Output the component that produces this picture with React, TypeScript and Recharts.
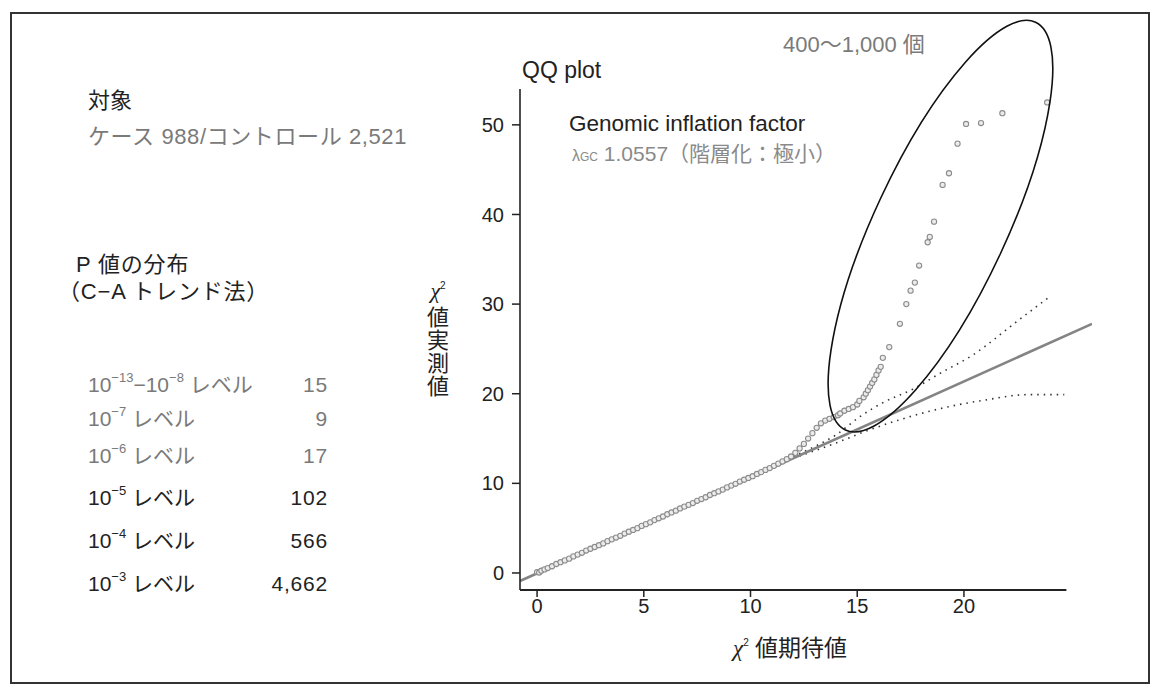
import React from "react";
import {
  ComposedChart,
  XAxis,
  YAxis,
  Scatter,
  Line,
  ReferenceLine,
  ReferenceDot,
} from "recharts";

// ---- data ----
const xTicks = [0, 5, 10, 15, 20];
const yTicks = [0, 10, 20, 30, 40, 50];

// observed chi-square vs expected chi-square (x = expected, y = observed)
const observedPairs: [number, number][] = [
  [0.0, 0.1], [0.1, 0.05], [0.2, 0.25], [0.35, 0.4], [0.5, 0.55], [0.7, 0.75],
  [0.9, 1.0], [1.1, 1.2], [1.3, 1.4], [1.5, 1.6], [1.7, 1.85], [1.9, 2.05],
  [2.1, 2.25], [2.3, 2.5], [2.5, 2.7], [2.7, 2.9], [2.9, 3.1], [3.1, 3.3],
  [3.3, 3.55], [3.5, 3.75], [3.7, 3.95], [3.9, 4.15], [4.1, 4.4], [4.3, 4.6],
  [4.5, 4.8], [4.7, 5.0], [4.9, 5.25], [5.1, 5.45], [5.3, 5.65], [5.5, 5.9],
  [5.7, 6.1], [5.9, 6.3], [6.1, 6.55], [6.3, 6.75], [6.5, 6.95], [6.7, 7.2],
  [6.9, 7.4], [7.1, 7.6], [7.3, 7.8], [7.5, 8.05], [7.7, 8.25], [7.9, 8.45],
  [8.1, 8.7], [8.3, 8.9], [8.5, 9.1], [8.7, 9.3], [8.9, 9.55], [9.1, 9.75],
  [9.3, 9.95], [9.5, 10.2], [9.7, 10.4], [9.9, 10.6], [10.1, 10.8], [10.3, 11.05],
  [10.5, 11.25], [10.7, 11.5], [10.9, 11.7], [11.1, 11.95], [11.3, 12.2], [11.5, 12.45],
  [11.7, 12.7], [11.9, 13.0], [12.1, 13.4], [12.3, 13.9], [12.5, 14.4], [12.7, 15.0],
  [12.9, 15.6], [13.1, 16.2], [13.3, 16.7], [13.5, 17.0], [13.7, 17.2], [13.9, 17.4],
  [14.1, 17.6], [14.2, 17.8], [14.4, 18.1], [14.6, 18.3], [14.8, 18.5], [15.0, 18.8],
  [15.1, 19.2], [15.3, 19.6], [15.4, 20.0], [15.5, 20.4], [15.6, 20.8], [15.7, 21.2],
  [15.8, 21.6], [15.9, 22.1], [16.0, 22.6], [16.1, 23.0], [16.2, 24.0], [16.5, 25.2],
  [17.0, 27.8], [17.3, 30.0], [17.5, 31.5], [17.7, 32.4], [17.9, 34.3], [18.3, 36.9],
  [18.4, 37.5], [18.6, 39.2], [19.0, 43.3], [19.3, 44.6], [19.7, 47.9], [20.1, 50.1],
  [20.8, 50.2], [21.8, 51.3], [23.9, 52.5],
];

// fitted line (lambda GC)
const fitPairs: [number, number][] = [
  [-0.8, -0.9],
  [26, 27.8],
];

// confidence band (dotted)
const upperBandPairs: [number, number][] = [
  [12, 13.0], [13, 14.1], [14, 15.4], [15.1, 17.4], [16.2, 19.0], [17.6, 20.5],
  [18.9, 22.3], [20.4, 24.3], [22.5, 28.1], [24.0, 30.8],
];
const lowerBandPairs: [number, number][] = [
  [12, 12.8], [14, 14.5], [15.5, 15.9], [17, 17.1], [19, 18.4], [21, 19.3],
  [23, 19.9], [24.7, 19.9],
];

// ellipse annotation (center in data units)
const ellipseCenter = { x: 18.9, y: 38.7 };

// left panel
const tableLabels = ["10^-13−10^-8", "10^-7", "10^-6", "10^-5", "10^-4", "10^-3"];
const tableValues = ["15", "9", "17", "102", "566", "4,662"];

const toObj = (p: [number, number][]) => p.map(([x, y]) => ({ x, y }));
const observed = toObj(observedPairs);
const fitLine = toObj(fitPairs);
const upperBand = toObj(upperBandPairs);
const lowerBand = toObj(lowerBandPairs);

const FONT = "'Liberation Sans', Arial, 'Noto Sans CJK JP', sans-serif";
const DARK = "#222";
const GRAY = "#7a7a7a";

const Pow = ({ exp }: { exp: string }) => (
  <span>
    10
    <span style={{ fontSize: 13, position: "relative", top: -10 }}>{exp}</span>
  </span>
);

const renderLabel = (s: string) => {
  const parts = s.split("−");
  return parts.map((p, i) => {
    const [, e] = p.split("^");
    return (
      <React.Fragment key={i}>
        {i > 0 ? "−" : null}
        <Pow exp={e.replace("-", "−")} />
      </React.Fragment>
    );
  });
};

const txt = (
  left: number,
  centerY: number,
  size: number,
  color: string,
  content: React.ReactNode,
  extra: React.CSSProperties = {}
) => (
  <div
    style={{
      position: "absolute",
      left,
      top: centerY - size / 2,
      fontSize: size,
      lineHeight: `${size}px`,
      color,
      whiteSpace: "nowrap",
      fontFamily: FONT,
      ...extra,
    }}
  >
    {content}
  </div>
);

const rowCenters = [384, 418, 455, 497, 540, 583];

export default function App() {
  return (
    <div
      style={{
        position: "absolute",
        left: 0,
        top: 0,
        width: 1156,
        height: 688,
        background: "#fff",
        fontFamily: FONT,
      }}
    >
      <div
        style={{
          position: "absolute",
          left: 10,
          top: 12,
          width: 1140,
          height: 672,
          border: "2px solid #333",
          boxSizing: "border-box",
        }}
      />
      <div style={{ position: "absolute", left: 0, top: 0 }}>
        <ComposedChart
          width={1156}
          height={688}
          margin={{ top: 89, right: 64, bottom: 68, left: 460 }}
        >
          <XAxis
            type="number"
            dataKey="x"
            domain={[-0.8, 26]}
            ticks={xTicks}
            allowDataOverflow
            axisLine={false}
            tickLine={{ stroke: DARK, strokeWidth: 1.5 }}
            tickSize={7}
            tickMargin={2}
            height={30}
            tick={{ fill: DARK, fontSize: 20, fontFamily: FONT }}
          />
          <YAxis
            type="number"
            dataKey="y"
            domain={[-1.9, 54]}
            ticks={yTicks}
            allowDataOverflow
            axisLine={{ stroke: DARK, strokeWidth: 1.6 }}
            tickLine={{ stroke: DARK, strokeWidth: 1.5 }}
            tickSize={8}
            tickMargin={8}
            width={60}
            tick={{ fill: DARK, fontSize: 20, fontFamily: FONT }}
          />
          <ReferenceLine
            segment={[
              { x: -0.8, y: -1.9 },
              { x: 24.8, y: -1.9 },
            ]}
            stroke={DARK}
            strokeWidth={1.8}
            ifOverflow="visible"
          />
          <Scatter
            data={observed}
            dataKey="y"
            isAnimationActive={false}
            shape={(p: any) => (
              <circle
                cx={p.cx}
                cy={p.cy}
                r={2.6}
                fill="#ececec"
                stroke="#8c8c8c"
                strokeWidth={1.1}
              />
            )}
          />
          <Line
            data={upperBand}
            dataKey="y"
            type="monotone"
            stroke="#333"
            strokeWidth={1.6}
            strokeDasharray="1.5 5"
            dot={false}
            isAnimationActive={false}
          />
          <Line
            data={lowerBand}
            dataKey="y"
            type="monotone"
            stroke="#333"
            strokeWidth={1.6}
            strokeDasharray="1.5 5"
            dot={false}
            isAnimationActive={false}
          />
          <Line
            data={fitLine}
            dataKey="y"
            type="linear"
            stroke="#848484"
            strokeWidth={2.6}
            dot={false}
            isAnimationActive={false}
          />
          <ReferenceDot
            x={ellipseCenter.x}
            y={ellipseCenter.y}
            r={1}
            ifOverflow="visible"
            shape={(p: any) => (
              <ellipse
                cx={p.cx}
                cy={p.cy}
                rx={225}
                ry={66}
                fill="none"
                stroke="#111"
                strokeWidth={1.6}
                transform={`rotate(-65 ${p.cx} ${p.cy})`}
              />
            )}
          />
        </ComposedChart>
      </div>

      {/* left panel */}
      {txt(88, 101, 22, DARK, "対象")}
      {txt(88, 137, 22, GRAY, "ケース 988/コントロール 2,521", { letterSpacing: 0.6 })}
      {txt(76, 265, 22, DARK, "P 値の分布", { letterSpacing: 0.8 })}
      {txt(58, 292, 22, DARK, "（C−A トレンド法）", { letterSpacing: 0.8 })}
      {tableLabels.map((l, i) =>
        txt(88, rowCenters[i], 21, i < 3 ? GRAY : DARK, <span>{renderLabel(l)} レベル</span>)
      )}
      {tableValues.map((v, i) =>
        txt(208, rowCenters[i], 21, i < 3 ? GRAY : DARK, v, {
          width: 120,
          textAlign: "right",
          letterSpacing: 0.8,
        })
      )}

      {/* chart annotations */}
      {txt(522, 70, 23, DARK, "QQ plot")}
      {txt(783, 45, 22, GRAY, "400〜1,000 個")}
      {txt(569, 124, 22.5, DARK, "Genomic inflation factor")}
      {txt(
        572,
        153,
        21,
        "#8a8a8a",
        <span>
          <span style={{ fontSize: 16 }}>λ</span>
          <span style={{ fontSize: 12 }}>GC</span> 1.0557（階層化：極小）
        </span>
      )}

      {/* y axis label */}
      <div
        style={{
          position: "absolute",
          left: 424,
          top: 279,
          width: 28,
          textAlign: "center",
          fontSize: 22,
          lineHeight: "23px",
          color: DARK,
          fontFamily: FONT,
        }}
      >
        <div>
          <i style={{ fontFamily: "'Liberation Serif', serif" }}>χ</i>
          <span style={{ fontSize: 10, position: "relative", top: -9 }}>2</span>
        </div>
        <div>値</div>
        <div>実</div>
        <div>測</div>
        <div>値</div>
      </div>

      {/* x axis label */}
      {txt(
        733,
        648,
        23,
        DARK,
        <span>
          <i style={{ fontFamily: "'Liberation Serif', serif" }}>χ</i>
          <span style={{ fontSize: 10, position: "relative", top: -10 }}>2</span> 値期待値
        </span>
      )}
    </div>
  );
}
